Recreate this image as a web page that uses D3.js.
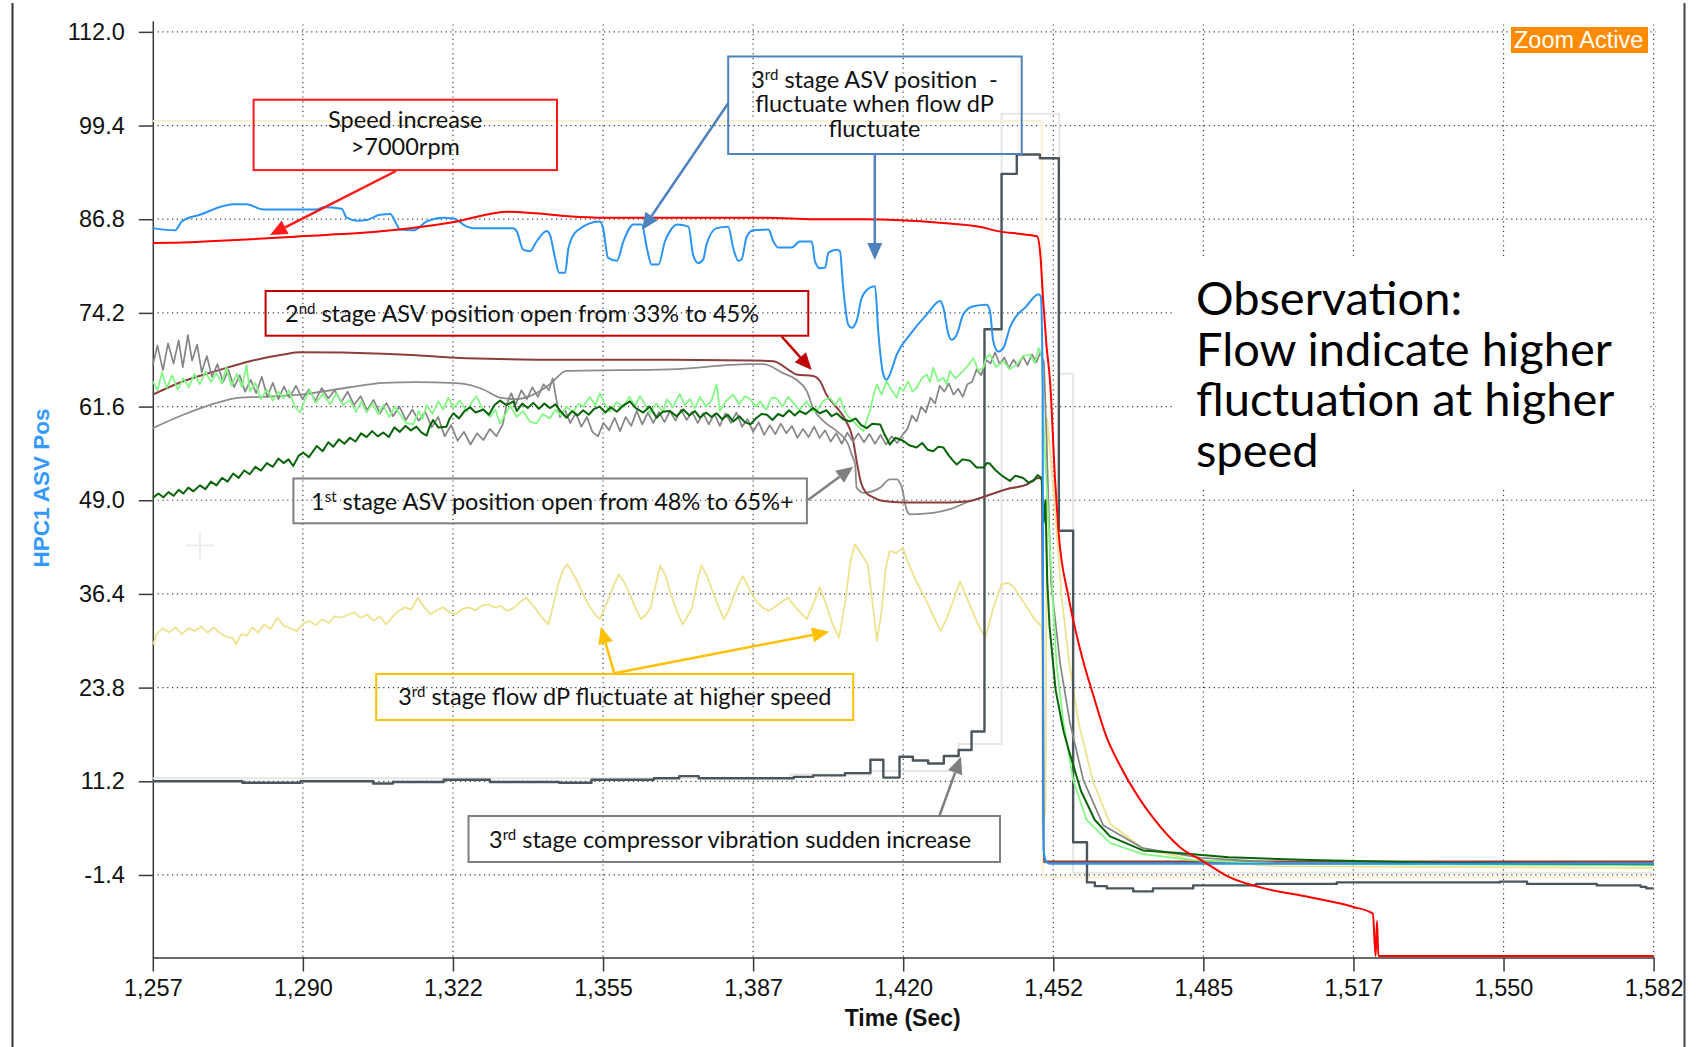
<!DOCTYPE html>
<html>
<head>
<meta charset="utf-8">
<script src="https://cdn.jsdelivr.net/npm/d3@7.9.0/dist/d3.min.js"></script>
<style>
  html, body { margin: 0; padding: 0; background: #fff; }
  svg { display: block; }
  .axis text { font-family: 'Liberation Sans', Arial, sans-serif; font-size: 23.5px; fill: #111; }
  .axis path, .axis line { stroke: #3a3a3a; stroke-width: 1.5; }
  .note { font-family: Lato, 'Open Sans', sans-serif; font-size: 23.5px; fill: #111; white-space: pre; }
</style>
</head>
<body>
<svg id="chart" width="1699" height="1047"></svg>
<script>
// axis setup
const timeDomain = [1257, 1582];
const valueDomain = [-12.5, 113.5];
const xTickValues = [1257, 1289.5, 1322, 1354.5, 1387, 1419.5, 1452, 1484.5, 1517, 1549.5, 1582];
const xTickLabels = ['1,257', '1,290', '1,322', '1,355', '1,387', '1,420', '1,452', '1,485', '1,517', '1,550', '1,582'];
const yTickValues = [112.0, 99.4, 86.8, 74.2, 61.6, 49.0, 36.4, 23.8, 11.2, -1.4];

// series, [time (s), value]
const speed = [[1257,83.6],[1265,83.7],[1275,84.0],[1289,84.5],[1307,85.2],[1322,86.4],[1334,87.8],[1340,87.6],[1347,87.2],[1355,87.0],[1369,87.0],[1390,87.0],[1400,86.8],[1411,86.8],[1428,86.3],[1436,85.8],[1440,85.2],[1445,84.8],[1448.5,84.5],[1449.2,82],[1449.8,76],[1450.5,70],[1451.3,65],[1452.4,51.6],[1453.1,45],[1455.3,36],[1458,28.5],[1460.8,22.5],[1463.5,17.2],[1466.3,13.5],[1470.5,9.0],[1473.6,6.3],[1479.5,2.3],[1484.3,0.5],[1490.1,-1.7],[1497.1,-3.1],[1507.6,-4.4],[1517,-5.7],[1521.2,-6.6],[1521.8,-12.3],[1522.1,-7.6],[1522.4,-12.3],[1582,-12.3]];

const asv3Pos = [[1257,85.6],[1261.8,85.3],[1263.3,86.5],[1267.2,87.4],[1274.4,88.8],[1277.3,88.8],[1280.9,88.1],[1292.5,88.1],[1293.9,88.4],[1297.9,88.2],[1299,87.0],[1301.2,86.6],[1303.3,86.7],[1306.2,87.4],[1308.4,87.5],[1309.8,86.1],[1310.5,85.4],[1313.4,85.3],[1316.3,86.5],[1319.9,87.0],[1322.1,86.9],[1325,85.8],[1326.4,85.6],[1335.1,85.6],[1335.8,85.2],[1337.2,82.7],[1338.7,82.5],[1340.1,83.8],[1342.3,85.2],[1343,84.7],[1344.1,81.6],[1345,79.6],[1346.3,79.6],[1347,82.9],[1348.8,85.2],[1353.8,86.5],[1354.5,85.6],[1355.6,81.6],[1357.5,81.2],[1358.9,83.8],[1361.1,86.1],[1362.9,86.1],[1364,82.9],[1365,80.7],[1366.5,80.7],[1367.9,83.8],[1369,85.2],[1370.5,86.1],[1373,85.8],[1374,82.0],[1375.1,80.9],[1376.2,81.4],[1376.9,83.4],[1379.1,85.6],[1381.6,85.8],[1382.7,82.9],[1383.8,81.2],[1384.5,81.4],[1385.6,84.4],[1387,85.3],[1390.3,85.4],[1391.4,83.8],[1392.4,83.0],[1395.4,83.0],[1397.1,83.8],[1399.7,83.8],[1400.4,81.1],[1401.5,80.2],[1402.6,80.3],[1403.3,82.3],[1405.1,82.7],[1405.8,82.5],[1406.5,77.6],[1407.6,72.6],[1408.3,72.2],[1409.4,73.1],[1410.5,76.2],[1412.3,77.6],[1413.4,77.8],[1414.1,71.7],[1415.2,65.9],[1415.9,65.2],[1416.6,65.9],[1418.1,68.6],[1421,71.3],[1424.6,74.0],[1427.5,75.8],[1428.2,74.9],[1429.3,71.3],[1430,70.6],[1431.1,71.3],[1432.5,74.0],[1434.7,75.1],[1437.6,75.3],[1438.3,74.4],[1439,70.4],[1440.1,69.0],[1441.2,69.5],[1442.6,72.2],[1446.2,75.1],[1448.8,76.7],[1449.3,76.4],[1449.7,65],[1449.9,2],[1450.4,0.5],[1451.2,0.1],[1582,0.1]];

const asv2Pos = [[1257,63.2],[1263.6,65.0],[1270.8,66.4],[1278,67.7],[1285.3,68.6],[1288.9,68.9],[1306.9,68.7],[1314.1,68.5],[1321.4,68.2],[1325,68.1],[1346.6,67.9],[1369,67.9],[1387,67.8],[1391.4,67.7],[1395,66.4],[1396.4,65.9],[1400,65.7],[1401.5,65.0],[1402.9,63.2],[1405.1,61.5],[1407,59.8],[1408.5,57.5],[1409.5,54],[1410.3,51.5],[1411.5,50.0],[1413,49.4],[1415.2,48.9],[1419.5,48.7],[1429.6,48.7],[1434,48.9],[1437.6,49.6],[1441.9,50.5],[1446.2,51.1],[1448.8,52.0],[1449.5,51.8],[1449.7,40],[1449.9,0.4],[1582,0.4]];

const asv1Pos = [[1257,58.7],[1263.6,60.5],[1270.8,62.1],[1275.9,62.8],[1280.2,62.9],[1288.9,63.2],[1299.7,64.2],[1306.9,64.8],[1314.1,64.9],[1321.4,64.8],[1325,64.6],[1328.6,63.9],[1332.2,62.8],[1335.8,62.6],[1339.4,63.2],[1343,64.6],[1346.6,66.4],[1369,66.6],[1386.4,67.3],[1389.2,67.3],[1393.5,66.1],[1396.4,65.2],[1398.6,63.7],[1400,61.4],[1402.5,59.5],[1405.1,58.3],[1407.6,56.5],[1408.3,55.2],[1409.1,53.8],[1409.4,50.7],[1410.9,50.0],[1414.5,50.7],[1416.6,51.8],[1418.1,51.8],[1419.2,50.7],[1420.3,47.6],[1421,47.1],[1426,47.3],[1429.6,47.8],[1434,48.9],[1437.6,49.6],[1441.9,50.5],[1446.2,51.1],[1448.8,52.0],[1449.5,51.8],[1449.7,38],[1449.9,0.3],[1582,0.3]];

const stage1Flow = [[1257,67.2],[1258,69.8],[1259.2,66.5],[1260.3,70.1],[1261.5,67.4],[1262.6,70.5],[1263.5,66.9],[1264.6,71.2],[1265.5,67.8],[1266.6,69.9],[1267.6,66.2],[1268.7,68.4],[1269.8,65.6],[1271,67.3],[1272.2,64.9],[1273.4,66.5],[1274.6,64.2],[1275.8,65.8],[1277,63.6],[1278.2,65.2],[1279.4,63.4],[1280.6,65.6],[1281.8,62.9],[1283,64.8],[1284.2,62.6],[1285.4,64.3],[1286.6,62.8],[1288,64.4],[1289.4,62.6],[1290.8,63.9],[1292.2,62.4],[1293.6,64.1],[1295,62.7],[1296.4,63.8],[1297.8,62.2],[1299.2,63.6],[1300.6,61.8],[1302,63.0],[1303.4,61.1],[1304.8,62.5],[1306.2,60.7],[1307.6,62.1],[1309,60.3],[1310.4,61.6],[1311.8,59.8],[1313.2,61.2],[1314.6,59.7],[1316,60.9],[1317.4,58.8],[1318.8,60.2],[1320.2,57.6],[1321.6,59.1],[1323,57.0],[1324.4,58.2],[1325.8,56.5],[1327.2,58.0],[1328.6,57.1],[1330,58.6],[1331.4,57.6],[1332.8,59.2],[1333.6,61.8],[1334.6,63.4],[1335.6,61.9],[1336.8,63.8],[1338,62.6],[1339.2,64.2],[1340.4,62.9],[1341.6,64.6],[1342.8,63.8],[1343.6,65.4],[1344.4,62.5],[1345.2,60.2],[1346.2,61.2],[1347.4,59.4],[1348.6,60.7],[1349.8,58.9],[1351,60.2],[1352.2,58.2],[1353.4,57.6],[1354.6,59.4],[1355.8,58.4],[1357,60.1],[1358.2,58.3],[1359.4,60.2],[1360.6,59.0],[1361.8,61.0],[1363,59.2],[1364.2,60.8],[1365.4,59.4],[1366.6,60.9],[1367.8,59.5],[1369,61.0],[1370.2,59.7],[1371.4,61.2],[1372.6,59.8],[1373.8,60.9],[1375,59.4],[1376.2,60.7],[1377.4,59.2],[1378.6,60.6],[1379.8,59.0],[1381,60.7],[1382.2,59.4],[1383.4,60.8],[1384.6,58.9],[1385.8,59.9],[1387,58.2],[1388.2,59.5],[1389.4,57.8],[1390.6,59.1],[1391.8,57.9],[1393,59.3],[1394.2,58.0],[1395.4,59.0],[1396.6,57.4],[1397.8,58.6],[1399,57.5],[1400.2,58.9],[1401.4,57.4],[1402.6,58.4],[1403.8,56.9],[1405,58.0],[1406.2,56.6],[1407.4,58.1],[1408.6,56.9],[1409.8,58.0],[1411,56.8],[1412.2,57.9],[1413.4,56.6],[1414.6,57.8],[1415.8,56.5],[1417,57.6],[1418.2,56.7],[1419.4,57.8],[1420.4,58.6],[1421.4,60.4],[1422.4,59.6],[1423.4,61.6],[1424.4,60.8],[1425.4,62.8],[1426.4,62.0],[1427.4,64.4],[1428.4,63.6],[1429.4,64.7],[1430.4,63.2],[1431.4,64.0],[1432.4,62.9],[1433.4,64.6],[1434.4,64.9],[1435.4,66.6],[1436.4,65.8],[1437.4,67.9],[1438.4,67.4],[1439.4,68.9],[1440.4,67.3],[1441.4,68.2],[1442.4,66.8],[1443.4,67.9],[1444.4,67.0],[1445.4,68.4],[1446.4,67.2],[1447.4,68.6],[1448.4,67.6],[1449.2,68.9],[1450,67.5],[1450.9,50],[1451.5,38],[1453.5,27],[1455.6,19.1],[1458.5,11.4],[1462.8,5.3],[1471.4,2.2],[1484,0.9],[1500,0.3],[1582,0.0]];

const stage2Flow = [[1257,65.0],[1258,63.8],[1259,66.2],[1260,64.1],[1261.2,65.8],[1262.4,63.9],[1263.6,65.4],[1264.8,64.2],[1266,66.0],[1267.2,64.6],[1268.4,66.3],[1269.6,64.9],[1270.8,66.1],[1272,64.7],[1272.9,66.9],[1274,64.4],[1275.2,66.0],[1276.3,64.2],[1277.3,67.2],[1278,63.6],[1279.2,64.8],[1280.4,62.6],[1281.7,63.9],[1283,62.4],[1284.2,63.6],[1285.3,62.7],[1286.5,63.8],[1287.7,61.6],[1288.9,60.8],[1290,62.6],[1291,63.9],[1292.2,62.1],[1293.9,63.3],[1295.4,61.9],[1296.8,63.4],[1298.2,61.8],[1299.7,62.5],[1301,60.9],[1302.2,62.3],[1303.3,60.8],[1304.6,62.0],[1305.8,60.6],[1306.9,61.8],[1308.2,60.2],[1309.4,61.6],[1310.5,60.6],[1311.8,59.4],[1313.4,59.2],[1314.6,61.0],[1315.4,59.9],[1316.3,61.8],[1317.6,60.6],[1318.8,62.3],[1319.9,61.2],[1321,62.8],[1322.1,61.4],[1323.5,62.4],[1325,60.9],[1326,62.1],[1327.1,63.0],[1328.4,61.3],[1330,60.2],[1331.2,61.2],[1332.2,59.3],[1333.2,60.4],[1334.4,61.7],[1335.8,60.2],[1337.2,61.0],[1338.6,59.6],[1340.1,59.3],[1341.4,60.6],[1343,60.0],[1344.2,61.2],[1345.4,60.4],[1346.6,61.6],[1348,60.8],[1349.2,62.0],[1350.2,61.6],[1351.6,62.9],[1352.8,61.8],[1353.8,63.4],[1354.8,62.0],[1356,60.9],[1357.4,62.2],[1358.9,61.6],[1360.2,62.9],[1361.4,61.7],[1362.5,63.0],[1363.6,61.9],[1364.6,60.7],[1366,62.0],[1367.5,60.9],[1368.3,62.6],[1369.6,61.5],[1371.1,63.3],[1372.2,61.8],[1373.3,62.6],[1374.4,61.4],[1375.5,62.9],[1376.8,61.6],[1378,62.4],[1379.1,64.6],[1379.8,61.0],[1381.2,62.4],[1382.7,63.2],[1384,61.9],[1385.2,63.0],[1386.4,62.6],[1387.6,61.6],[1388.5,62.3],[1389.8,61.2],[1391,62.8],[1392.1,62.7],[1393.4,61.6],[1394.6,62.9],[1395.7,62.1],[1397,61.1],[1398.6,62.3],[1399.8,61.0],[1400.8,61.0],[1402.2,62.4],[1403.6,62.8],[1404.8,61.8],[1405.8,62.8],[1406.6,61.4],[1407.3,60.5],[1408.7,59.6],[1409.8,58.9],[1410.9,58.3],[1411.6,59.8],[1412.3,61.0],[1413.1,63.2],[1413.8,64.6],[1414.8,63.2],[1415.9,65.0],[1417,63.8],[1418.1,62.8],[1418.8,64.2],[1419.5,63.7],[1420.6,65.0],[1421.5,63.6],[1422.4,64.1],[1423.5,65.4],[1424.6,65.9],[1425.3,64.9],[1426,66.8],[1427.1,65.0],[1428.2,65.5],[1428.9,64.6],[1429.6,66.4],[1430.8,65.4],[1432.5,66.4],[1433.6,67.2],[1434.7,68.1],[1435.8,66.4],[1436.8,66.8],[1437.5,68.2],[1438.3,68.6],[1439.6,66.9],[1441.2,67.7],[1442.6,66.6],[1444.1,67.3],[1445.5,68.4],[1447,68.6],[1448,67.4],[1448.8,69.5],[1449.5,68.6],[1450,57.7],[1451.3,42.3],[1452.7,27],[1454.2,19.1],[1456.3,11.4],[1459.2,6.0],[1464.3,2.9],[1471.4,1.4],[1482.3,0.6],[1500,0.1],[1582,-0.1]];

const stage1Trend = [[1257,49.3],[1258.2,49.9],[1259.3,49.4],[1260.4,50.1],[1261.5,49.6],[1262.6,50.4],[1263.6,49.9],[1264.7,50.7],[1265.8,50.2],[1267.2,51.0],[1268.4,50.5],[1269.6,51.5],[1270.8,51.0],[1272,52.0],[1273.2,51.5],[1274.4,52.6],[1275.6,52.0],[1276.8,53.0],[1278,52.5],[1279.2,53.5],[1280.4,53.0],[1281.7,54.0],[1283,53.5],[1284.2,54.6],[1285.3,54.0],[1286.4,54.5],[1287.4,53.6],[1288.6,55.0],[1289.6,55.4],[1290.8,54.8],[1292.5,56.3],[1293.8,55.6],[1295,56.8],[1296.1,56.2],[1297.3,57.2],[1298.5,56.6],[1299.7,57.4],[1300.9,56.9],[1302.1,58.0],[1303.3,57.5],[1304.5,58.3],[1305.7,57.6],[1306.9,58.1],[1308.1,57.5],[1309.3,58.8],[1310.5,58.2],[1311.7,59.0],[1312.9,58.4],[1314.1,58.9],[1315.2,58.1],[1316.3,57.7],[1317,59.0],[1317.7,59.8],[1318.8,58.8],[1320.6,58.9],[1321.3,60.0],[1322.1,60.7],[1323.3,60.0],[1324.5,61.0],[1325.7,61.5],[1326.9,60.8],[1328.6,61.2],[1329.8,60.5],[1331,61.8],[1332.2,62.4],[1333.6,61.8],[1335.1,62.3],[1335.8,61.0],[1337,62.0],[1338.2,61.4],[1339.4,62.1],[1340.6,61.3],[1341.8,62.0],[1343,61.4],[1344.2,61.9],[1345.4,60.9],[1346.6,60.1],[1347.8,61.0],[1349,60.4],[1350.2,61.1],[1351.4,60.5],[1352.6,61.3],[1353.8,61.6],[1355,60.8],[1356.2,61.5],[1357.5,60.9],[1358.8,61.7],[1360.3,62.3],[1361.6,61.4],[1363.2,60.8],[1364.6,61.6],[1366.1,60.1],[1367.4,60.9],[1369,61.0],[1370.4,60.3],[1371.9,61.2],[1373.2,60.4],[1374.4,61.0],[1375.5,60.1],[1376.8,60.8],[1378,60.2],[1379.1,60.7],[1380.3,59.9],[1381.5,60.5],[1382.7,59.6],[1384,60.3],[1385.2,59.5],[1386.4,59.2],[1387.6,60.0],[1388.8,60.6],[1390,60.5],[1391.2,59.8],[1392.4,60.6],[1393.5,60.3],[1394.8,61.1],[1396,60.4],[1397.1,61.0],[1398.4,60.6],[1400,61.4],[1401.4,60.7],[1402.9,61.1],[1404,60.3],[1405.1,60.7],[1406.5,59.9],[1408,59.6],[1409.2,60.0],[1410.4,59.1],[1411.6,58.7],[1412.8,59.3],[1414.5,59.2],[1415.5,57.8],[1416.6,56.5],[1417.8,57.4],[1419.5,57.0],[1420.8,56.4],[1422.4,56.1],[1423.6,56.7],[1424.8,55.8],[1426,55.6],[1427.1,56.2],[1428.2,56.1],[1429.4,55.0],[1430.2,54.4],[1431.1,53.8],[1432.4,54.5],[1434,54.3],[1435.4,53.4],[1436.9,53.4],[1437.6,54.0],[1438.3,53.9],[1439.4,53.1],[1440.5,52.5],[1441.6,52.0],[1442.6,51.6],[1443.8,52.3],[1445.5,52.0],[1446.6,51.4],[1447.7,51.6],[1448.6,52.4],[1449.5,52.0],[1449.9,46],[1450.3,49],[1450.7,38],[1451.2,32],[1452.5,23.5],[1454.2,18],[1455.3,15.5],[1458,9.9],[1461,6.0],[1464.3,3.8],[1471.4,1.9],[1478.4,1.6],[1490,1.0],[1507.6,0.6],[1537,0.2],[1582,0.05]];

const flowDp3 = [[1257.1,29.6],[1257.8,31.0],[1259.2,31.8],[1260.5,31.2],[1261.9,31.9],[1263.3,31.0],[1264.7,31.8],[1266.1,31.4],[1267.5,32.0],[1268.9,31.2],[1270.2,31.9],[1271.6,31.1],[1273,30.6],[1274.3,30.5],[1275,29.6],[1276.2,31.0],[1277.4,30.8],[1278.5,31.9],[1279.8,31.2],[1281.1,32.3],[1282.5,31.7],[1284,33.2],[1285.4,32.1],[1286.8,31.8],[1288.2,31.4],[1289.6,32.4],[1290.9,32.8],[1292.3,32.2],[1293.7,33.0],[1295.1,32.5],[1296.4,33.4],[1297.8,33.2],[1299.2,33.6],[1300.6,33.9],[1302,33.2],[1303.4,33.6],[1304.8,32.8],[1306.2,33.4],[1307.5,32.3],[1308.9,33.3],[1310.2,34.1],[1311.6,34.6],[1313,34.3],[1314.4,35.9],[1315.8,34.6],[1317.2,33.7],[1318.5,34.2],[1319.9,34.6],[1321.3,33.9],[1322.7,33.7],[1324.1,34.4],[1325.5,34.6],[1326.9,34.2],[1328.2,34.8],[1329.6,35.0],[1331,34.6],[1332.4,34.8],[1333.7,34.1],[1335.1,34.5],[1336.5,35.3],[1337.9,35.9],[1339.9,34.4],[1341.3,33.2],[1342.7,32.3],[1343.7,34.9],[1344.8,37.7],[1345.8,39.6],[1346.8,40.4],[1347.8,39.4],[1348.9,38.1],[1350.3,36.2],[1351.7,34.6],[1352.8,33.6],[1353.8,33.0],[1354.8,34.4],[1355.8,35.9],[1356.9,37.7],[1357.9,39.0],[1359,38.1],[1360,36.8],[1361.3,34.8],[1362.7,33.0],[1363.8,33.6],[1364.8,34.6],[1365.9,37.6],[1366.9,40.2],[1368,38.9],[1369,36.8],[1370.3,34.4],[1371.7,32.3],[1372.8,33.4],[1373.8,34.6],[1374.8,37.8],[1375.8,40.2],[1376.9,39.0],[1377.9,37.3],[1379.3,35.0],[1380.7,33.0],[1381.7,34.2],[1382.7,35.9],[1383.8,37.6],[1384.8,38.8],[1386.2,37.0],[1387.6,35.5],[1389,34.6],[1390.4,34.1],[1392.5,35.0],[1394.5,35.9],[1396.5,34.4],[1398.6,33.0],[1400,35.0],[1401.4,37.3],[1402.8,35.0],[1404.2,32.4],[1405.6,30.5],[1407,35.5],[1408,40.5],[1409,43.1],[1410.4,41.8],[1411.8,40.4],[1412.8,35.5],[1413.8,30.1],[1414.8,34.0],[1415.7,39.8],[1416.6,42.2],[1418,41.9],[1419.4,42.6],[1420.7,40.4],[1422.4,38.0],[1424.2,35.9],[1425.9,33.6],[1427.6,31.4],[1429,33.2],[1430.4,35.6],[1431.8,38.1],[1433.2,36.0],[1434.5,34.1],[1435.9,32.0],[1437.3,30.5],[1439,34.5],[1440.8,37.7],[1442.2,37.9],[1443.5,37.3],[1445,35.8],[1446.3,34.6],[1447.7,33.2],[1449,32.3],[1449.6,31.9],[1449.8,6],[1450.3,7],[1450.7,60],[1452.1,50],[1453.8,36],[1455.5,27],[1457.5,19],[1460.7,11],[1464.3,5.5],[1471.4,2.2],[1482.3,0.6],[1500,-0.2],[1582,-0.45]];

// stepped traces, each value holds until the next time
const vibration3 = [[1257,11.2],[1276.4,11.0],[1289,11.2],[1304.7,10.9],[1309,11.1],[1320,11.4],[1330,11.1],[1345,11.0],[1352,11.4],[1365.5,11.6],[1371,11.9],[1375.2,11.6],[1395.8,11.8],[1400,12.0],[1406.9,12.3],[1412.4,14.1],[1415.2,11.7],[1418.7,14.5],[1421.6,14.0],[1424.9,13.6],[1428.3,14.6],[1431.5,15.4],[1434.3,17.9],[1437.1,72.0],[1440.8,92.9],[1444.1,95.5],[1449.1,95.0],[1453.2,44.9],[1456.3,3.0],[1459.3,-2.4],[1461,-2.9],[1463.6,-3.2],[1469.3,-3.6],[1473.6,-3.2],[1482.3,-2.8],[1495.9,-2.6],[1513.4,-2.4],[1548.7,-2.3],[1554.6,-2.6],[1569.7,-2.8],[1579.2,-3.0],[1580.4,-3.2],[1582,-3.2]];
const paleVibration = [[1257,11.6],[1395,12.1],[1412.4,12.6],[1431.5,16.2],[1440.8,101],[1453.3,66],[1456.3,-1.1],[1582,-1.1]];

// very pale reference trace
const paleSpeedRef = [[1257,100.0],[1449.5,100.0],[1449.7,-1.7],[1582,-1.7]];
const cursorAt = [1267.2, 42.9];

const svg = d3.select('#chart');
const x = d3.scaleLinear().domain(timeDomain).range([152.8, 1653.6]);
const y = d3.scaleLinear().domain(valueDomain).range([957.5, 20.7]);

svg.append('rect').attr('width', 1699).attr('height', 1047).attr('fill', '#fff');

// dotted grid
const grid = svg.append('g')
  .attr('stroke', '#3c3c3c').attr('stroke-width', 1.2).attr('stroke-dasharray', '1.2,3.6');
grid.selectAll('.h').data(yTickValues).join('line')
  .attr('x1', x(timeDomain[0])).attr('x2', x(timeDomain[1]) + 2)
  .attr('y1', (d) => y(d)).attr('y2', (d) => y(d));
grid.selectAll('.v').data(xTickValues.slice(1)).join('line')
  .attr('x1', (d) => x(d)).attr('x2', (d) => x(d))
  .attr('y1', y(113)).attr('y2', y(valueDomain[0]));

// white panel behind the observation text
svg.append('rect').attr('x', 1173).attr('y', 258).attr('width', 477).attr('height', 232).attr('fill', '#fff');

// axes
svg.append('g').attr('class', 'axis')
  .attr('transform', `translate(0,${y(valueDomain[0])})`)
  .call(d3.axisBottom(x).tickValues(xTickValues).tickFormat((d, i) => xTickLabels[i])
    .tickSize(14).tickSizeOuter(0).tickPadding(8));
svg.append('g').attr('class', 'axis')
  .attr('transform', `translate(${x(timeDomain[0])},0)`)
  .call(d3.axisLeft(y).tickValues(yTickValues).tickFormat((d) => d.toFixed(1))
    .tickSize(14).tickSizeOuter(0).tickPadding(14));

const line = d3.line().x((d) => x(d[0])).y((d) => y(d[1]));
const smooth = d3.line().x((d) => x(d[0])).y((d) => y(d[1])).curve(d3.curveMonotoneX);
const stepLine = d3.line().x((d) => x(d[0])).y((d) => y(d[1])).curve(d3.curveStepAfter);

const series = [
  { data: paleVibration, color: '#e6e6e6', w: 2, gen: stepLine },
  { data: paleSpeedRef, color: '#fbf0d3', w: 2, gen: line },
  { data: flowDp3, color: '#eee28e', w: 1.8, gen: line },
  { data: vibration3, color: '#4b555b', w: 2.4, gen: stepLine },
  { data: asv1Pos, color: '#8c8c8c', w: 1.8, gen: smooth },
  { data: asv2Pos, color: '#8e3d3d', w: 2, gen: smooth },
  { data: stage1Flow, color: '#858585', w: 1.7, gen: line },
  { data: stage2Flow, color: '#7ff97f', w: 1.7, gen: line },
  { data: stage1Trend, color: '#086408', w: 2, gen: line },
  { data: asv3Pos, color: '#2994f5', w: 2, gen: smooth },
  { data: speed, color: '#ff0000', w: 2, gen: smooth },
];

svg.append('g').selectAll('path').data(series).join('path')
  .attr('d', (d) => d.gen(d.data))
  .attr('fill', 'none')
  .attr('stroke', (d) => d.color)
  .attr('stroke-width', (d) => d.w)
  .attr('stroke-linejoin', 'round');

// faint cursor cross
const cx = x(cursorAt[0]), cy = y(cursorAt[1]);
svg.append('path').attr('d', `M${cx - 14},${cy}H${cx + 14}M${cx},${cy - 14}V${cy + 14}`)
  .attr('stroke', '#ececec').attr('stroke-width', 2);

// annotations
const notes = svg.append('g');

function box(x0, y0, w, h, color) {
  notes.append('rect').attr('x', x0).attr('y', y0).attr('width', w).attr('height', h)
    .attr('fill', 'none').attr('stroke', color).attr('stroke-width', 2);
}

function arrow(x1, y1, x2, y2, color) {
  const len = Math.hypot(x2 - x1, y2 - y1);
  const ux = (x2 - x1) / len, uy = (y2 - y1) / len;
  const head = 17, half = 7.5;
  const bx = x2 - ux * head, by = y2 - uy * head;
  notes.append('line').attr('x1', x1).attr('y1', y1).attr('x2', bx).attr('y2', by)
    .attr('stroke', color).attr('stroke-width', 2.5);
  notes.append('path')
    .attr('d', `M${x2},${y2}L${bx - uy * half},${by + ux * half}L${bx + uy * half},${by - ux * half}Z`)
    .attr('fill', color);
}

// each line is [lead, superscript, rest] or [text]; lines share one text element
function label(x0, y0, anchor, lines, gap = 0) {
  const t = notes.append('text').attr('class', 'note').attr('x', x0).attr('y', y0).attr('text-anchor', anchor);
  lines.forEach((parts, i) => {
    t.append('tspan').attr('x', x0).attr('y', y0 + i * gap).text(parts[0]);
    if (parts.length > 1) {
      t.append('tspan').attr('font-size', 15).attr('dy', -8).text(parts[1]);
      t.append('tspan').attr('dy', 8).text(parts[2]);
    }
  });
}

box(253.6, 99.7, 303.4, 70.4, '#ff1a1a');
label(405.3, 128, 'middle', [['Speed increase'], ['>7000rpm']], 26.5);
arrow(396, 171, 270, 235, '#ff1a1a');

box(728.2, 56.5, 293.5, 97.5, '#4f81bd');
label(874.5, 87.5, 'middle', [['3', 'rd', ' stage ASV position  -'], ['fluctuate when flow dP'], ['fluctuate']], 24.75);
arrow(728.2, 103.3, 642, 230, '#4f81bd');
arrow(874.8, 154, 874.8, 260, '#4f81bd');

box(265.6, 291, 542.7, 44.7, '#c00000');
label(285, 321.5, 'start', [['2', 'nd', ' stage ASV position open from 33% to 45%']]);
arrow(781.7, 336.5, 811.7, 370, '#c00000');

box(293.4, 478.5, 513.5, 44.8, '#7f7f7f');
label(311, 509.5, 'start', [['1', 'st', ' stage ASV position open from 48% to 65%+']]);
arrow(808, 500, 853.3, 466.7, '#7f7f7f');

box(376.2, 674, 477, 46, '#ffc000');
label(614.8, 704.5, 'middle', [['3', 'rd', ' stage flow dP fluctuate at higher speed']]);
arrow(614.3, 673.3, 600.9, 626.7, '#ffc000');
arrow(614.3, 673.3, 829.2, 631.7, '#ffc000');

box(468.5, 816, 531.5, 46, '#7f7f7f');
label(489, 847.5, 'start', [['3', 'rd', ' stage compressor vibration sudden increase']]);
arrow(939.3, 816, 961, 756.7, '#7f7f7f');

// zoom badge
svg.append('rect').attr('x', 1511).attr('y', 27).attr('width', 137).attr('height', 26).attr('fill', '#ff8c00');
svg.append('text').attr('x', 1514).attr('y', 48)
  .attr('font-family', "'Liberation Sans', Arial, sans-serif").attr('font-size', 23.5).attr('fill', '#fff')
  .text('Zoom Active');

// observation block, one text element with a tspan per line
const obs = ['Observation:', 'Flow indicate higher', 'fluctuation at higher', 'speed'];
svg.append('text')
  .attr('font-family', "Lato, 'Open Sans', sans-serif").attr('font-size', 47).attr('fill', '#000')
  .selectAll('tspan').data(obs).join('tspan')
  .attr('x', 1196).attr('y', (d, i) => 315 + i * 50.5)
  .text((d) => d);

// axis titles
svg.append('text').attr('transform', 'translate(49,488) rotate(-90)')
  .attr('text-anchor', 'middle').attr('font-family', "'Liberation Sans', Arial, sans-serif")
  .attr('font-size', 22.5).attr('font-weight', 'bold').attr('fill', '#3399ff')
  .text('HPC1 ASV Pos');
svg.append('text').attr('x', 902.7).attr('y', 1026)
  .attr('text-anchor', 'middle').attr('font-family', "'Liberation Sans', Arial, sans-serif")
  .attr('font-size', 23).attr('font-weight', 'bold').attr('fill', '#111')
  .text('Time (Sec)');

// frame edges
svg.append('line').attr('x1', 12.5).attr('x2', 12.5).attr('y1', 3).attr('y2', 1047)
  .attr('stroke', '#333').attr('stroke-width', 2);
svg.append('line').attr('x1', 1684.5).attr('x2', 1684.5).attr('y1', 3).attr('y2', 1047)
  .attr('stroke', '#444').attr('stroke-width', 2);
</script>
</body>
</html>
